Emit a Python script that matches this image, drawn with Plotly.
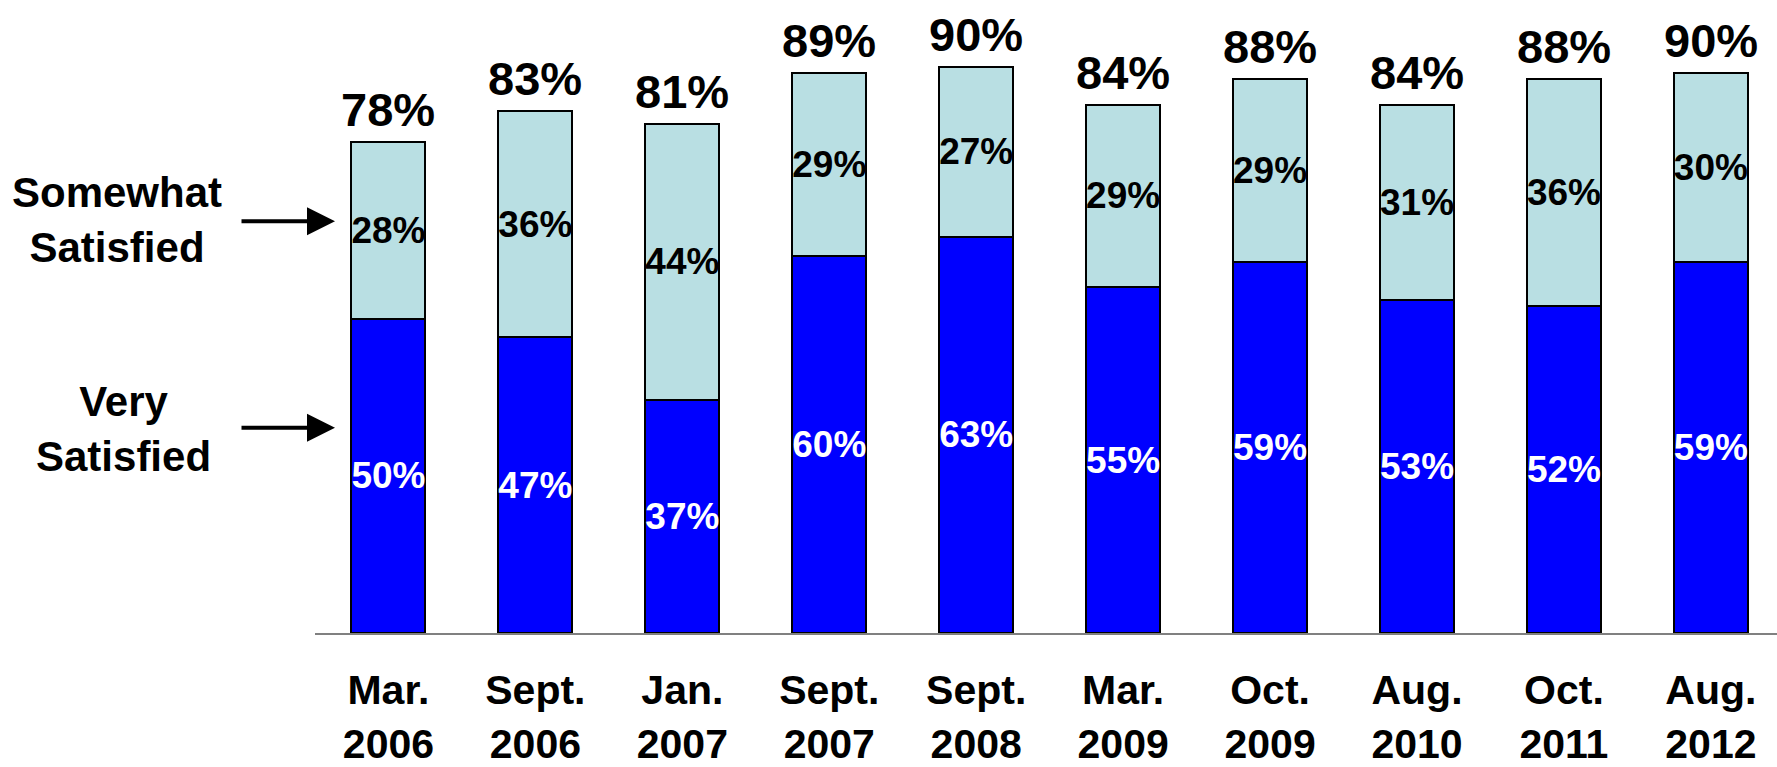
import plotly.graph_objects as go

categories = ["Mar.<br>2006", "Sept.<br>2006", "Jan.<br>2007", "Sept.<br>2007", "Sept.<br>2008",
              "Mar.<br>2009", "Oct.<br>2009", "Aug.<br>2010", "Oct.<br>2011", "Aug.<br>2012"]
very_satisfied = [50, 47, 37, 60, 63, 55, 59, 53, 52, 59]
somewhat_satisfied = [28, 36, 44, 29, 27, 29, 29, 31, 36, 30]
total_labels = [78, 83, 81, 89, 90, 84, 88, 84, 88, 90]

BLUE = "#0000FF"
LIGHT = "#B9DFE3"
FONT = "Liberation Sans, Arial, sans-serif"

fig = go.Figure()
fig.add_trace(go.Bar(
    x=categories, y=very_satisfied, width=0.504,
    marker=dict(color=BLUE, line=dict(color="black", width=2)),
    text=[f"{v}%" for v in very_satisfied], textposition="inside",
    insidetextanchor="middle", constraintext="none", textangle=0,
    textfont=dict(family=FONT, size=37, color="white", weight="bold"),
    showlegend=False, hoverinfo="skip",
))
fig.add_trace(go.Bar(
    x=categories, y=somewhat_satisfied, width=0.504,
    marker=dict(color=LIGHT, line=dict(color="black", width=2)),
    text=[f"{v}%" for v in somewhat_satisfied], textposition="inside",
    insidetextanchor="middle", constraintext="none", textangle=0,
    textfont=dict(family=FONT, size=37, color="black", weight="bold"),
    showlegend=False, hoverinfo="skip",
))

for c, v, s, t in zip(categories, very_satisfied, somewhat_satisfied, total_labels):
    fig.add_annotation(
        x=c, y=v + s, xref="x", yref="y", text=f"{t}%", showarrow=False,
        yanchor="bottom", yshift=4,
        font=dict(family=FONT, size=47, color="black", weight="bold"),
    )

# Left side labels with arrows
plot_left, plot_w = 315, 1462
plot_bottom, plot_h = 635, 631

def px_x(p):
    return (p - plot_left) / plot_w

def px_y(p):
    return (plot_bottom - p) / plot_h

for label, cx, cy, ay in [("Somewhat<br>Satisfied", 117, 221, 222), ("Very<br>Satisfied", 123, 430, 429)]:
    fig.add_annotation(
        x=px_x(cx), y=px_y(cy), xref="paper", yref="paper", text=label,
        showarrow=False, xanchor="center", yanchor="middle", align="center",
        font=dict(family=FONT, size=42, color="black", weight="bold"),
    )
    fig.add_annotation(
        x=px_x(335), y=px_y(ay), xref="paper", yref="paper", text="",
        showarrow=True, arrowhead=2, arrowsize=1.4, arrowwidth=4, arrowcolor="black",
        ax=-95, ay=0, axref="pixel", ayref="pixel", standoff=0,
    )

fig.update_layout(
    barmode="stack",
    width=1777, height=767,
    margin=dict(l=315, r=0, t=4, b=132),
    plot_bgcolor="white", paper_bgcolor="white",
    xaxis=dict(
        range=[-0.5, 9.45], showline=True, linecolor="#808080", linewidth=2,
        showgrid=False, ticks="", zeroline=False, ticklabelstandoff=20,
        tickfont=dict(family=FONT, size=41, color="black", weight="bold"),
    ),
    yaxis=dict(range=[0, 100], visible=False, showgrid=False, zeroline=False),
)

fig.write_html(
    "out.html",
    config={"displayModeBar": False},
    post_script="document.body.style.margin='0';document.body.style.overflow='hidden';",
)
